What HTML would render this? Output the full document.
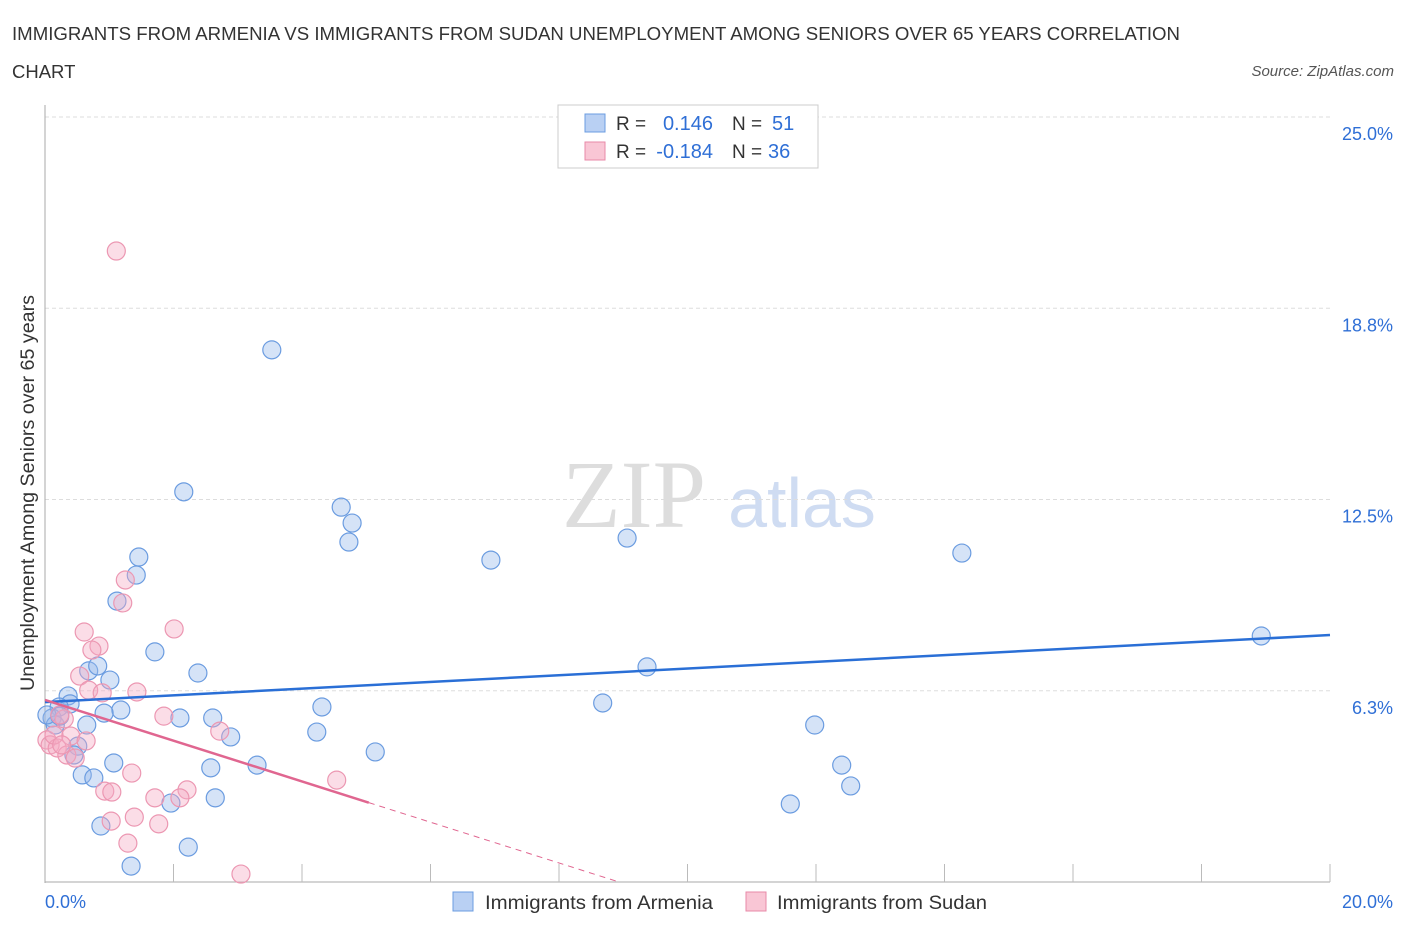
<!DOCTYPE html>
<html><head><meta charset="utf-8"><style>
body{margin:0;background:#fff;font-family:"Liberation Sans",sans-serif;}
svg text{font-family:"Liberation Sans",sans-serif;}
</style></head><body>
<svg width="1406" height="930" id="c">
<text x="12" y="40" font-size="18.5" fill="#333" textLength="1168" lengthAdjust="spacingAndGlyphs">IMMIGRANTS FROM ARMENIA VS IMMIGRANTS FROM SUDAN UNEMPLOYMENT AMONG SENIORS OVER 65 YEARS CORRELATION</text>
<text x="12" y="78" font-size="18.5" fill="#333">CHART</text>
<text x="1394" y="76" font-size="15" fill="#555" font-style="italic" text-anchor="end">Source: ZipAtlas.com</text>
<text x="634" y="527" font-size="96" fill="#ddd" text-anchor="middle" style="font-family:'Liberation Serif',serif">ZIP</text>
<text x="802" y="527" font-size="70" fill="#cfdcf2" text-anchor="middle">atlas</text>
<text transform="translate(34,493) rotate(-90)" font-size="19" fill="#333" text-anchor="middle" textLength="396" lengthAdjust="spacingAndGlyphs">Unemployment Among Seniors over 65 years</text>
<g id="grid"></g><g id="marks"></g>
<g>
<rect x="558" y="105" width="260" height="63" fill="#fff" stroke="#ccc"/>
<rect x="585" y="114" width="20" height="18" fill="#b9d0f3" stroke="#6b9ce0"/>
<rect x="585" y="142" width="20" height="18" fill="#f9c6d5" stroke="#e88aa8"/>
<text x="616" y="130" font-size="19" fill="#333">R =</text>
<text x="713" y="130" font-size="20" fill="#2f6fd6" text-anchor="end">0.146</text>
<text x="732" y="130" font-size="19" fill="#333">N =</text>
<text x="772" y="130" font-size="20" fill="#2f6fd6">51</text>
<text x="616" y="158" font-size="19" fill="#333">R =</text>
<text x="713" y="158" font-size="20" fill="#2f6fd6" text-anchor="end">-0.184</text>
<text x="732" y="158" font-size="19" fill="#333">N =</text>
<text x="768" y="158" font-size="20" fill="#2f6fd6">36</text>
</g>
<g>
<rect x="453" y="892" width="20" height="19" fill="#b9d0f3" stroke="#6b9ce0"/>
<text x="485" y="909" font-size="19.5" fill="#333" textLength="228" lengthAdjust="spacingAndGlyphs">Immigrants from Armenia</text>
<rect x="746" y="892" width="20" height="19" fill="#f9c6d5" stroke="#e88aa8"/>
<text x="777" y="909" font-size="19.5" fill="#333" textLength="210" lengthAdjust="spacingAndGlyphs">Immigrants from Sudan</text>
</g>
</svg>
<script>
const yTicks=[25.0,18.8,12.5,6.3];
const yTickVals=[25,18.75,12.5,6.25];
const xTickLabels=["0.0%","20.0%"];
const armeniaX=[3.53,2.16,4.61,4.78,4.73,1.46,6.94,9.06,14.27,1.42,1.12,1.71,18.93,9.37,2.38,0.68,0.82,1.01,0.36,0.39,8.68,4.31,1.18,0.92,2.10,2.61,0.22,0.11,0.16,0.65,11.98,4.23,2.89,0.51,5.14,0.45,1.07,3.30,2.58,12.40,0.58,0.76,12.54,1.96,2.65,11.60,0.87,2.23,1.34,0.03,0.23];
const armeniaY=[17.39,12.75,12.25,11.73,11.11,10.62,10.52,11.24,10.75,10.03,9.18,7.52,8.04,7.03,6.83,6.90,7.06,6.60,6.08,5.82,5.85,5.72,5.62,5.52,5.36,5.36,5.72,5.36,5.13,5.13,5.13,4.90,4.74,4.44,4.25,4.15,3.89,3.82,3.73,3.82,3.50,3.40,3.14,2.58,2.75,2.55,1.83,1.14,0.52,5.46,5.42];
const sudanX=[1.11,1.25,1.21,2.01,0.61,0.84,0.73,0.54,0.68,1.43,0.89,1.85,0.30,0.23,2.72,0.40,0.03,0.08,0.64,0.19,0.34,0.47,1.35,4.54,0.93,1.04,2.21,2.10,1.71,1.39,1.03,1.77,1.29,3.05,0.14,0.26];
const sudanY=[20.62,9.87,9.12,8.27,8.17,7.71,7.58,6.73,6.27,6.21,6.18,5.42,5.33,5.46,4.93,4.77,4.64,4.48,4.61,4.38,4.15,4.05,3.56,3.33,2.97,2.94,3.01,2.75,2.75,2.12,1.99,1.90,1.27,0.26,4.80,4.48];
const armeniaTrend=[5.88,8.07];
const sudanTrend=[5.95,-0.666];
const sx=v=>45+v*64.25, sy=v=>882-v*30.6;
const NS='http://www.w3.org/2000/svg';
function mk(t,a,p){const e=document.createElementNS(NS,t);for(const k in a)e.setAttribute(k,a[k]);p.appendChild(e);return e;}
const g=document.getElementById('grid'), m=document.getElementById('marks');
yTickVals.forEach((v,i)=>{
 const l=mk('line',{x1:45,x2:1330,y1:sy(v),y2:sy(v),stroke:'#ddd','stroke-dasharray':'4,3'},g);
 
 
 const t=mk('text',{x:1393,y:sy(v)+23,'font-size':18,fill:'#2f6fd6','text-anchor':'end'},g);
 t.textContent=yTicks[i].toFixed(1)+'%';
 
 
});
const ax=mk('line',{x1:45,x2:45,y1:105,y2:883,stroke:'#aaa'},g);


const bx=mk('line',{x1:45,x2:1330,y1:882,y2:882,stroke:'#aaa'},g);


for(let i=1;i<=10;i++){
 const tk=mk('line',{x1:sx(i*2),x2:sx(i*2),y1:864,y2:882,stroke:'#bbb'},g);
 
 
}
[[0,'start',45],[20,'end',1393]].forEach((d,i)=>{
 const t=mk('text',{x:d[2],y:908,'font-size':18,fill:'#2f6fd6','text-anchor':d[1]},g);
 t.textContent=xTickLabels[i];
 
 
});
armeniaX.forEach((x,i)=>{
 const c=mk('circle',{cx:sx(x),cy:sy(armeniaY[i]),r:9,fill:'rgba(150,185,235,0.4)',stroke:'#6b9ce0','stroke-width':1.2},m);
 
 
});
sudanX.forEach((x,i)=>{
 const c=mk('circle',{cx:sx(x),cy:sy(sudanY[i]),r:9,fill:'rgba(245,170,195,0.4)',stroke:'#ec97b2','stroke-width':1.2},m);
 
 
});
const bl=mk('line',{x1:sx(0),y1:sy(armeniaTrend[0]),x2:sx(20),y2:sy(armeniaTrend[1]),stroke:'#2a6fd6','stroke-width':2.5},m);


const xs=Math.max(...sudanX)+0.5, xz=-sudanTrend[0]/sudanTrend[1];
const pl=mk('line',{x1:sx(0),y1:sy(sudanTrend[0]),x2:sx(xs),y2:sy(sudanTrend[0]+sudanTrend[1]*xs),stroke:'#e06690','stroke-width':2.5},m);


const pd=mk('line',{x1:sx(xs),y1:sy(sudanTrend[0]+sudanTrend[1]*xs),x2:sx(xz),y2:sy(0),stroke:'#e06690','stroke-width':1,'stroke-dasharray':'6,5'},m);


</script>
</body></html>
